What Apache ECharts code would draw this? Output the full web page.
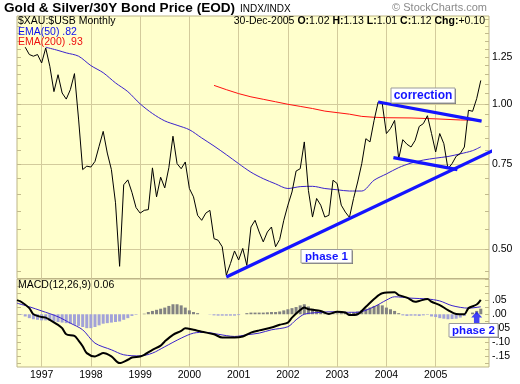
<!DOCTYPE html>
<html><head><meta charset="utf-8">
<script src="https://cdn.jsdelivr.net/npm/echarts@6/dist/echarts.min.js"></script>
<style>html,body{margin:0;padding:0;background:#fff}#c{width:520px;height:384px}</style>
</head><body><div id="c"></div>
<script>
// ---------- DATA ----------
const months = [
 '1996-07','1996-08','1996-09','1996-10','1996-11','1996-12',
 '1997-01','1997-02','1997-03','1997-04','1997-05','1997-06','1997-07','1997-08','1997-09','1997-10','1997-11','1997-12',
 '1998-01','1998-02','1998-03','1998-04','1998-05','1998-06','1998-07','1998-08','1998-09','1998-10','1998-11','1998-12',
 '1999-01','1999-02','1999-03','1999-04','1999-05','1999-06','1999-07','1999-08','1999-09','1999-10','1999-11','1999-12',
 '2000-01','2000-02','2000-03','2000-04','2000-05','2000-06','2000-07','2000-08','2000-09','2000-10','2000-11','2000-12',
 '2001-01','2001-02','2001-03','2001-04','2001-05','2001-06','2001-07','2001-08','2001-09','2001-10','2001-11','2001-12',
 '2002-01','2002-02','2002-03','2002-04','2002-05','2002-06','2002-07','2002-08','2002-09','2002-10','2002-11','2002-12',
 '2003-01','2003-02','2003-03','2003-04','2003-05','2003-06','2003-07','2003-08','2003-09','2003-10','2003-11','2003-12',
 '2004-01','2004-02','2004-03','2004-04','2004-05','2004-06','2004-07','2004-08','2004-09','2004-10','2004-11','2004-12',
 '2005-01','2005-02','2005-03','2005-04','2005-05','2005-06','2005-07','2005-08','2005-09','2005-10','2005-11','2005-12'
];
// $XAU:$USB monthly close (first two months hidden under legend text)
const price = [
 null,null,1.31,1.265,1.255,1.265,
 1.215,1.305,1.196,1.06,1.149,1.053,1.023,1.07,1.155,0.93,0.731,0.743,
 0.74,0.76,0.817,0.877,0.791,0.731,0.624,0.461,0.68,0.696,0.656,0.61,
 0.594,0.602,0.604,0.737,0.642,0.705,0.67,0.738,0.857,0.752,0.734,0.758,
 0.668,0.642,0.588,0.574,0.594,0.602,0.526,0.522,0.506,0.442,0.467,0.496,
 0.475,0.502,0.463,0.556,0.574,0.543,0.518,0.543,0.556,0.506,0.524,0.574,
 0.617,0.657,0.726,0.734,0.834,0.662,0.583,0.637,0.617,0.583,0.588,0.695,
 0.684,0.617,0.597,0.582,0.637,0.689,0.752,0.847,0.834,0.924,1.009,1.0,
 0.868,0.889,0.924,0.77,0.843,0.825,0.814,0.84,0.898,0.91,0.945,0.868,
 0.795,0.868,0.827,0.734,0.752,0.779,0.789,0.814,0.97,0.965,1.025,1.118
];
const ema50Months = ['1997-02','1997-05','1997-07','1997-10','1998-01','1998-04','1998-07','1998-10','1999-01','1999-04','1999-07','1999-10','2000-01','2000-04','2000-07','2000-10','2001-01','2001-04','2001-07','2001-10','2002-01','2002-04','2002-07','2002-10','2003-01','2003-04','2003-07','2003-10','2004-01','2004-04','2004-07','2004-10','2005-01','2005-04','2005-07','2005-10','2005-12'];
const ema50Values = [1.31,1.29,1.275,1.255,1.20,1.16,1.105,1.06,1.00,0.955,0.922,0.903,0.884,0.85,0.818,0.785,0.752,0.722,0.70,0.683,0.668,0.674,0.675,0.668,0.664,0.66,0.66,0.695,0.716,0.738,0.754,0.765,0.772,0.778,0.788,0.80,0.815];
const ema200Months = ['2000-07','2000-10','2001-01','2001-04','2001-07','2001-10','2002-01','2002-04','2002-07','2002-10','2003-01','2003-04','2003-07','2003-10','2004-01','2004-07','2005-01','2005-07','2005-12'];
const ema200Values = [1.092,1.07,1.05,1.034,1.022,1.01,0.998,0.988,0.978,0.966,0.959,0.952,0.942,0.938,0.936,0.935,0.931,0.926,0.925];

const macdMonths = ['1996-07','1996-08','1996-10','1996-11','1997-01','1997-02','1997-03','1997-05','1997-06','1997-07','1997-09','1997-10','1997-11','1997-12','1998-02','1998-03','1998-04','1998-06','1998-08','1998-10','1998-11','1999-01','1999-02','1999-04','1999-06','1999-07','1999-09','1999-11','1999-12','2000-02','2000-04','2000-07','2000-09','2000-12','2001-02','2001-04','2001-06','2001-09','2001-11','2002-01','2002-02','2002-04','2002-05','2002-06','2002-09','2002-11','2003-01','2003-03','2003-04','2003-06','2003-08','2003-10','2003-12','2004-03','2004-04','2004-06','2004-08','2004-09','2004-11','2004-12','2005-02','2005-04','2005-06','2005-08','2005-09','2005-11','2005-12'];
const macdValues = [0.051,0.045,0.022,0.0,-0.01,-0.012,-0.02,-0.038,-0.05,-0.072,-0.078,-0.095,-0.115,-0.14,-0.152,-0.146,-0.14,-0.152,-0.176,-0.164,-0.156,-0.152,-0.146,-0.128,-0.113,-0.098,-0.074,-0.06,-0.05,-0.056,-0.063,-0.072,-0.084,-0.084,-0.08,-0.066,-0.058,-0.048,-0.038,-0.03,-0.012,0.015,0.024,0.018,0.012,0.001,0.009,0.006,-0.003,0.0,0.027,0.055,0.076,0.079,0.069,0.06,0.045,0.048,0.055,0.045,0.033,0.015,0.001,0.0,0.022,0.035,0.052];
const signalMonths = ['1996-07','1996-10','1997-01','1997-05','1997-08','1997-11','1998-02','1998-06','1998-09','1999-01','1999-04','1999-07','1999-11','2000-02','2000-05','2000-08','2000-12','2001-03','2001-06','2001-09','2002-01','2002-03','2002-05','2002-09','2002-12','2003-03','2003-06','2003-10','2004-01','2004-03','2004-07','2004-11','2005-02','2005-05','2005-09','2005-12'];
const signalValues = [0.04,0.027,0.012,-0.009,-0.032,-0.056,-0.104,-0.128,-0.146,-0.15,-0.14,-0.117,-0.086,-0.068,-0.065,-0.072,-0.08,-0.074,-0.068,-0.056,-0.045,-0.02,0.0,0.007,0.009,0.007,0.007,0.027,0.051,0.063,0.058,0.055,0.048,0.031,0.022,0.027];
const histValues = [
 0,-0.002,-0.008,-0.014,-0.018,-0.02,
 -0.022,-0.022,-0.024,-0.026,-0.028,-0.03,-0.032,-0.034,-0.038,-0.042,-0.046,-0.05,
 -0.05,-0.046,-0.04,-0.034,-0.032,-0.03,-0.028,-0.026,-0.02,-0.014,-0.006,-0.002,
 0,0.002,0.008,0.012,0.016,0.02,0.024,0.03,0.036,0.036,0.032,0.024,
 0.014,0.008,0.004,0,0,-0.001,-0.004,-0.005,-0.005,-0.005,-0.005,-0.005,
 -0.003,0,0.004,0.006,0.006,0.006,0.006,0.007,0.008,0.008,0.01,0.014,
 0.018,0.022,0.026,0.032,0.036,0.028,0.02,0.012,0.008,0.006,0.004,0.003,
 0.003,0.004,0.005,0.004,0.006,0.01,0.014,0.02,0.024,0.03,0.034,0.032,
 0.024,0.018,0.012,0.004,-0.004,-0.006,-0.005,-0.005,-0.006,-0.004,-0.002,-0.008,
 -0.01,-0.014,-0.016,-0.018,-0.017,-0.016,-0.012,-0.006,0,0.006,0.012,0.02
];
// hand-drawn annotation trendlines: [month position, value]
const phase1Line = [[51, 0.438], [122.6, 0.851]];
const corrUpper = [[88, 1.009], [113.2, 0.921]];
const corrLower = [[91.7, 0.774], [107.3, 0.731]];
const phase2Arrow = [[112, -0.012]];

const yearTicks = ['1997-01','1998-01','1999-01','2000-01','2001-01','2002-01','2003-01','2004-01','2005-01'];
const priceGridVals = [0.5, 0.75, 1.0];
const priceLabelVals = [0.5, 0.75, 1.0, 1.25];
const priceMinorTicks = [0.45,0.5,0.55,0.6,0.65,0.7,0.75,0.8,0.85,0.9,0.95,1.0,1.05,1.1,1.15,1.2,1.25,1.3,1.35,1.4,1.45,1.5];
const macdLabelVals = [0.05, 0, -0.05, -0.10, -0.15];
const macdMinorTicks = [-0.175,-0.15,-0.125,-0.1,-0.075,-0.05,-0.025,0,0.025,0.05,0.075,0.1,0.125];

// ---------- BUILD ----------
function idx(m){ const p = m.split('-'); return (Number(p[0]) - 1996) * 12 + (Number(p[1]) - 7); }
function pairs(ms, vs){ return ms.map((m, k) => [idx(m), vs[k]]); }
const pricePts = []; months.forEach((m, k) => { if (price[k] != null) pricePts.push([idx(m), price[k]]); });
const histPts = months.map((m, k) => [idx(m), histValues[k]]);
const yearIdx = yearTicks.map(idx);

const FONT = '"Liberation Sans", Arial, sans-serif';
const BG = '#ffffcc', GRIDC = '#d3cb9c', BORDERC = '#bdb587', TICKC = '#c2ba8c';
const BLUE = '#1414ff';
const X_MAX = 115;

function xAxisCfg(grid, labels){
  return { gridIndex: grid, type: 'value', min: 0, max: X_MAX,
    axisLine: {show: false},
    axisTick: {show: false, customValues: yearIdx},
    splitLine: {show: true, lineStyle: {color: GRIDC, width: 1}},
    axisLabel: labels ? {show: true, customValues: yearIdx, margin: 3, color: '#000',
      fontFamily: FONT, fontSize: 10.5,
      formatter: v => String(1996 + Math.floor((v + 6) / 12))} : {show: false}
  };
}
function minorAxis(grid, type, min, max, pos, ticks){
  const a = { gridIndex: grid, type: type, min: min, max: max, position: pos,
    axisLine: {show: false}, splitLine: {show: false}, axisLabel: {show: false},
    axisTick: {show: true, inside: true, length: 4, customValues: ticks, lineStyle: {color: TICKC}} };
  if (type === 'log') a.logBase = 10;
  return a;
}

const P_MIN = 0.435, P_MAX = 1.52, M_MIN = -0.19, M_MAX = 0.127;

const option = {
  animation: false,
  backgroundColor: '#ffffff',
  grid: [
    {left: 17, top: 16, width: 472, height: 262.5, show: true, backgroundColor: BG, borderColor: BORDERC, borderWidth: 1},
    {left: 17, top: 279, width: 472, height: 88, show: true, backgroundColor: BG, borderColor: BORDERC, borderWidth: 1}
  ],
  xAxis: [xAxisCfg(0, false), xAxisCfg(1, true)],
  yAxis: [
    { gridIndex: 0, type: 'log', logBase: 10, min: P_MIN, max: P_MAX, position: 'right',
      axisLine: {show: false},
      axisTick: {show: false, customValues: priceGridVals},
      splitLine: {show: true, lineStyle: {color: GRIDC, width: 1}},
      axisLabel: {show: true, customValues: priceLabelVals, margin: 3, color: '#000', fontFamily: FONT, fontSize: 10.5,
        formatter: v => Number(v).toFixed(2)} },
    minorAxis(0, 'log', P_MIN, P_MAX, 'right', priceMinorTicks),
    minorAxis(0, 'log', P_MIN, P_MAX, 'left', priceMinorTicks),
    { gridIndex: 1, type: 'value', min: M_MIN, max: M_MAX, position: 'right',
      axisLine: {show: false}, axisTick: {show: false}, splitLine: {show: false},
      axisLabel: {show: true, customValues: macdLabelVals, margin: 3, color: '#000', fontFamily: FONT, fontSize: 10.5,
        formatter: v => (v < -1e-9 ? '-' : '') + Math.abs(v).toFixed(2).replace(/^0/, '')} },
    minorAxis(1, 'value', M_MIN, M_MAX, 'right', macdMinorTicks),
    minorAxis(1, 'value', M_MIN, M_MAX, 'left', macdMinorTicks)
  ],
  series: [
    {type: 'line', xAxisIndex: 0, yAxisIndex: 0, data: pairs(ema200Months, ema200Values), symbol: 'none',
      lineStyle: {color: '#ff1010', width: 1}, silent: true, z: 2},
    {type: 'line', xAxisIndex: 0, yAxisIndex: 0, data: pairs(ema50Months, ema50Values), symbol: 'none', smooth: 0.3,
      lineStyle: {color: '#3a22cc', width: 1}, silent: true, z: 2},
    {type: 'line', xAxisIndex: 0, yAxisIndex: 0, data: pricePts, symbol: 'none',
      lineStyle: {color: '#000', width: 1}, silent: true, z: 3},
    {type: 'line', xAxisIndex: 0, yAxisIndex: 0, data: phase1Line, symbol: 'none', clip: false,
      lineStyle: {color: BLUE, width: 3.2}, silent: true, z: 5},
    {type: 'line', xAxisIndex: 0, yAxisIndex: 0, data: corrUpper, symbol: 'none', clip: false,
      lineStyle: {color: BLUE, width: 3.2}, silent: true, z: 5},
    {type: 'line', xAxisIndex: 0, yAxisIndex: 0, data: corrLower, symbol: 'none', clip: false,
      lineStyle: {color: BLUE, width: 3.2}, silent: true, z: 5},
    {type: 'bar', xAxisIndex: 1, yAxisIndex: 3, data: histPts, barWidth: 3, silent: true, z: 2,
      itemStyle: {color: p => (p.value[1] >= 0 ? '#828282' : '#a2a2d8')}},
    {type: 'line', xAxisIndex: 1, yAxisIndex: 3, data: pairs(signalMonths, signalValues), symbol: 'none', smooth: 0.3,
      lineStyle: {color: '#3a22cc', width: 1}, silent: true, z: 3},
    {type: 'line', xAxisIndex: 1, yAxisIndex: 3, data: pairs(macdMonths, macdValues), symbol: 'none', smooth: 0.3,
      lineStyle: {color: '#000', width: 2}, silent: true, z: 4},
    {type: 'scatter', xAxisIndex: 1, yAxisIndex: 3, data: phase2Arrow, clip: false, silent: true, z: 6,
      symbol: 'path://M5,0 L10,6 L7.5,6 L7.5,12 L2.5,12 L2.5,6 L0,6 Z', symbolSize: [11, 12],
      itemStyle: {color: BLUE}}
  ],
  graphic: [
    {type: 'text', left: 4, top: 1, z: 50, style: {text: 'Gold & Silver/30Y Bond Price (EOD)', font: 'bold 13.6px ' + FONT, fill: '#000'}},
    {type: 'text', left: 240, top: 4, z: 50, style: {text: 'INDX/INDX', font: '10px ' + FONT, fill: '#000'}},
    {type: 'text', right: 33, top: 2, z: 50, style: {text: '\u00a9 StockCharts.com', font: '11px ' + FONT, fill: '#8a8a8a'}},
    {type: 'text', left: 18, top: 16, z: 50, style: {text: '$XAU:$USB Monthly', font: '10.5px ' + FONT, fill: '#000'}},
    {type: 'text', right: 35, top: 16, z: 50, style: {
      text: '30-Dec-2005 {b|O:}1.02 {b|H:}1.13 {b|L:}1.01 {b|C:}1.12 {b|Chg:}+0.10',
      font: '10.5px ' + FONT, fill: '#000', rich: {b: {fontWeight: 'bold', fontSize: 10.5, fontFamily: FONT}}}},
    {type: 'text', left: 18, top: 26.5, z: 50, style: {text: 'EMA(50) .82', font: '10.5px ' + FONT, fill: '#1010ee'}},
    {type: 'text', left: 18, top: 36.5, z: 50, style: {text: 'EMA(200) .93', font: '10.5px ' + FONT, fill: '#ee1010'}},
    {type: 'text', left: 18, top: 280, z: 50, style: {text: 'MACD(12,26,9) 0.06', font: '10.5px ' + FONT, fill: '#000'}},
    // annotation boxes
    {type: 'rect', z: 60, shape: {x: 392, y: 89, width: 64, height: 15}, style: {fill: '#7a7a7a'}},
    {type: 'rect', z: 61, shape: {x: 391, y: 88, width: 64, height: 15}, style: {fill: '#fff', stroke: '#9a9a9a', lineWidth: 1}},
    {type: 'text', z: 62, x: 423, y: 96, style: {text: 'correction', font: 'bold 12px ' + FONT, fill: BLUE, align: 'center', verticalAlign: 'middle'}},
    {type: 'rect', z: 60, shape: {x: 302, y: 250.5, width: 51, height: 13.5}, style: {fill: '#7a7a7a'}},
    {type: 'rect', z: 61, shape: {x: 301, y: 249.5, width: 51, height: 13.5}, style: {fill: '#fff', stroke: '#9a9a9a', lineWidth: 1}},
    {type: 'text', z: 62, x: 326.5, y: 256.5, style: {text: 'phase 1', font: 'bold 11.5px ' + FONT, fill: BLUE, align: 'center', verticalAlign: 'middle'}},
    {type: 'rect', z: 60, shape: {x: 450, y: 324.5, width: 49, height: 13.5}, style: {fill: '#7a7a7a'}},
    {type: 'rect', z: 61, shape: {x: 449, y: 323.5, width: 49, height: 13.5}, style: {fill: '#fff', stroke: '#9a9a9a', lineWidth: 1}},
    {type: 'text', z: 62, x: 473.5, y: 330.5, style: {text: 'phase 2', font: 'bold 11.5px ' + FONT, fill: BLUE, align: 'center', verticalAlign: 'middle'}}
  ]
};
const chart = echarts.init(document.getElementById('c'), null, {renderer: 'canvas'});
chart.setOption(option);
</script>
</body></html>
